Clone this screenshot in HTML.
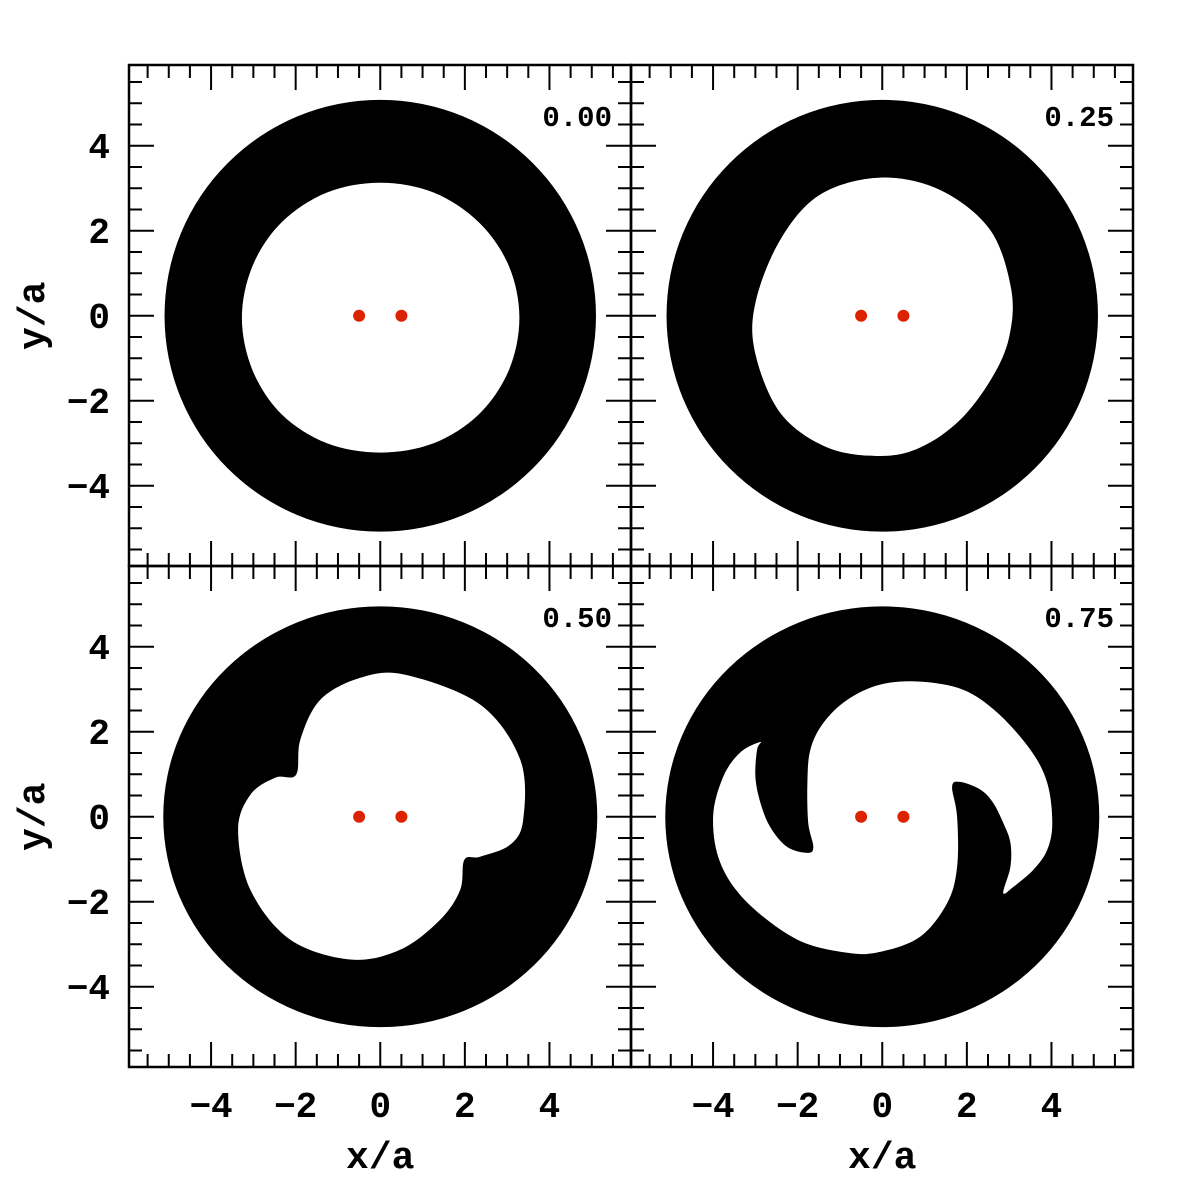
<!DOCTYPE html>
<html><head><meta charset="utf-8"><style>
html,body{margin:0;padding:0;background:#fff;}
svg{display:block;}
text{font-family:"Liberation Mono",monospace;fill:#000;}
</style></head><body>
<svg id="chart" width="1196" height="1196" viewBox="0 0 1196 1196">
<rect width="1196" height="1196" fill="#fff"/>
</svg>
<script>
// ---- data ----
const panelLabels = ["0.00","0.25","0.50","0.75"];
const outerRadiiX = [5.1, 5.1, 5.13, 5.13];
const outerRadiiY = [5.08, 5.08, 4.95, 4.95];
const binaryX = [-0.5, 0.5];
const binaryY = [0, 0];
const xTickValues = [-4,-2,0,2,4];
const yTickValues = [4,2,0,-2,-4];
const xTickLabels = ["\u22124","\u22122","0","2","4"];
const yTickLabels = ["4","2","0","\u22122","\u22124"];
const hole0X = [3.29,3.04,2.33,1.26,0,-1.26,-2.33,-3.02,-3.27,-3.02,-2.33,-1.26,0,1.26,2.33,3.04];
const hole0Y = [-0.05,1.17,2.2,2.9,3.13,2.9,2.2,1.17,-0.05,-1.28,-2.32,-3.0,-3.22,-3.0,-2.32,-1.28];
const hole1X = [-0.05,1.37,2.55,3.05,3.0,2.6,1.84,0.90,-0.05,-1.3,-2.4,-3.0,-3.0,-2.41,-1.47];
const hole1Y = [3.25,2.96,2.02,0.61,-0.5,-1.45,-2.45,-3.1,-3.3,-3.1,-2.3,-0.9,0.3,1.79,2.85];
const hole2X = [0.59,2.36,3.31,3.38,3.07,2.36,1.99,1.89,1.42,0.47,-0.71,-2.13,-3.07,-3.36,-3.07,-2.48,-1.99,-1.89,-1.42,-0.47];
const hole2Y = [3.34,2.64,1.34,-0.07,-0.66,-0.94,-1.01,-1.72,-2.42,-3.13,-3.36,-2.89,-1.72,-0.31,0.52,0.92,0.99,1.81,2.75,3.27];
const hole3X = [-2.96,-3.00,-2.88,-2.65,-2.25,-1.77,-1.63,-1.75,-1.77,-1.70,-1.39,-0.83,-0.05,0.90,1.91,2.72,3.50,3.90,4.02,3.90,3.57,3.10,2.86,3.03,3.03,2.86,2.62,2.32,1.84,1.65,1.77,1.77,1.54,0.90,-0.05,-0.83,-2.01,-3.19,-3.83,-4.00,-3.76,-3.36,-2.88];
const hole3Y = [1.58,0.94,0.33,-0.24,-0.71,-0.85,-0.71,-0.14,0.80,1.58,2.21,2.75,3.11,3.18,2.99,2.45,1.58,0.80,-0.14,-0.78,-1.25,-1.65,-1.79,-1.18,-0.61,-0.14,0.33,0.64,0.82,0.71,0.00,-1.18,-2.02,-2.82,-3.18,-3.20,-2.89,-2.02,-1.08,0.00,0.94,1.51,1.76];
const holesX = [hole0X, hole1X, hole2X, hole3X];
const holesY = [hole0Y, hole1Y, hole2Y, hole3Y];

// ---- layout ----
const NS = "http://www.w3.org/2000/svg";
const svg = document.getElementById("chart");
const panelLeft = [129, 631, 129, 631];
const panelTop = [65, 65, 566, 566];
const PW = 502, PH = 501;
const SX = 42.3, SY = 42.5;
const XMIN = -5.94, YMAX = 5.9;
function xs(p, v){ return panelLeft[p] + (v - XMIN) * SX; }
function ys(p, v){ return panelTop[p] + (YMAX - v) * SY; }
function mk(tag, attrs, parent){ const e=document.createElementNS(NS,tag); for(const k in attrs) e.setAttribute(k, attrs[k]); (parent||svg).appendChild(e); return e; }

function smoothPath(p, X, Y){
  const n = X.length; const P=[];
  for(let i=0;i<n;i++) P.push([xs(p,X[i]), ys(p,Y[i])]);
  let d = "M"+P[0][0].toFixed(1)+","+P[0][1].toFixed(1);
  for(let i=0;i<n;i++){
    const p0=P[(i-1+n)%n], p1=P[i], p2=P[(i+1)%n], p3=P[(i+2)%n];
    const c1=[p1[0]+(p2[0]-p0[0])/6, p1[1]+(p2[1]-p0[1])/6];
    const c2=[p2[0]-(p3[0]-p1[0])/6, p2[1]-(p3[1]-p1[1])/6];
    d += " C"+c1[0].toFixed(1)+","+c1[1].toFixed(1)+" "+c2[0].toFixed(1)+","+c2[1].toFixed(1)+" "+p2[0].toFixed(1)+","+p2[1].toFixed(1);
  }
  return d+" Z";
}

const defs = mk("defs",{});
for(let p=0;p<4;p++){
  const cp = mk("clipPath",{id:"clip"+p},defs);
  mk("rect",{x:panelLeft[p],y:panelTop[p],width:PW,height:PH},cp);
  const g = mk("g",{"clip-path":"url(#clip"+p+")"});
  
  
  const ring = mk("ellipse",{cx:xs(p,0),cy:ys(p,0),rx:outerRadiiX[p]*SX,ry:outerRadiiY[p]*SY,fill:"#000"},g);
  
  
  const hole = mk("path",{d:smoothPath(p,holesX[p],holesY[p]),fill:"#fff"},g);
  
  
  for(let i=0;i<binaryX.length;i++){
    const s = mk("circle",{cx:xs(p,binaryX[i]),cy:ys(p,binaryY[i]),r:6,fill:"#dd2200"},g);
    
    
  }
  const tg = mk("g",{stroke:"#000","stroke-width":2});
  
  
  const L=panelLeft[p], T=panelTop[p], R=L+PW, B=T+PH;
  for(let k=-11;k<=11;k++){
    const v=k*0.5; const major = (k%4===0);
    const len = major?25:13;
    const x=xs(p,v), y=ys(p,v);
    if(x>L+1 && x<R-1){ mk("line",{x1:x,y1:T,x2:x,y2:T+len},tg); mk("line",{x1:x,y1:B,x2:x,y2:B-len},tg); }
    if(y>T+1 && y<B-1){ mk("line",{x1:L,y1:y,x2:L+len,y2:y},tg); mk("line",{x1:R,y1:y,x2:R-len,y2:y},tg); }
  }
  const fr = mk("rect",{x:L,y:T,width:PW,height:PH,fill:"none",stroke:"#000","stroke-width":2.5});
  
  
  const lab = mk("text",{x:R-19,y:T+61,"text-anchor":"end","font-size":29,"font-weight":"bold"});
  lab.textContent = panelLabels[p];
  
  
  if(p===0||p===2){
    for(let i=0;i<yTickValues.length;i++){
      const t = mk("text",{x:110,y:ys(p,yTickValues[i])+12,"text-anchor":"end","font-size":36,"font-weight":"bold"});
      t.textContent = yTickLabels[i];
      
      
    }
    const yt = mk("text",{x:0,y:0,"text-anchor":"middle","font-size":38,"font-weight":"bold",transform:"translate(44,"+ys(p,0)+") rotate(-90)"});
    yt.textContent = "y/a";
    
    
  }
  if(p===2||p===3){
    for(let i=0;i<xTickValues.length;i++){
      const t = mk("text",{x:xs(p,xTickValues[i]),y:1117,"text-anchor":"middle","font-size":36,"font-weight":"bold"});
      t.textContent = xTickLabels[i];
      
      
    }
    const xt = mk("text",{x:xs(p,0),y:1168,"text-anchor":"middle","font-size":38,"font-weight":"bold"});
    xt.textContent = "x/a";
    
    
  }
}
</script>
</body></html>
